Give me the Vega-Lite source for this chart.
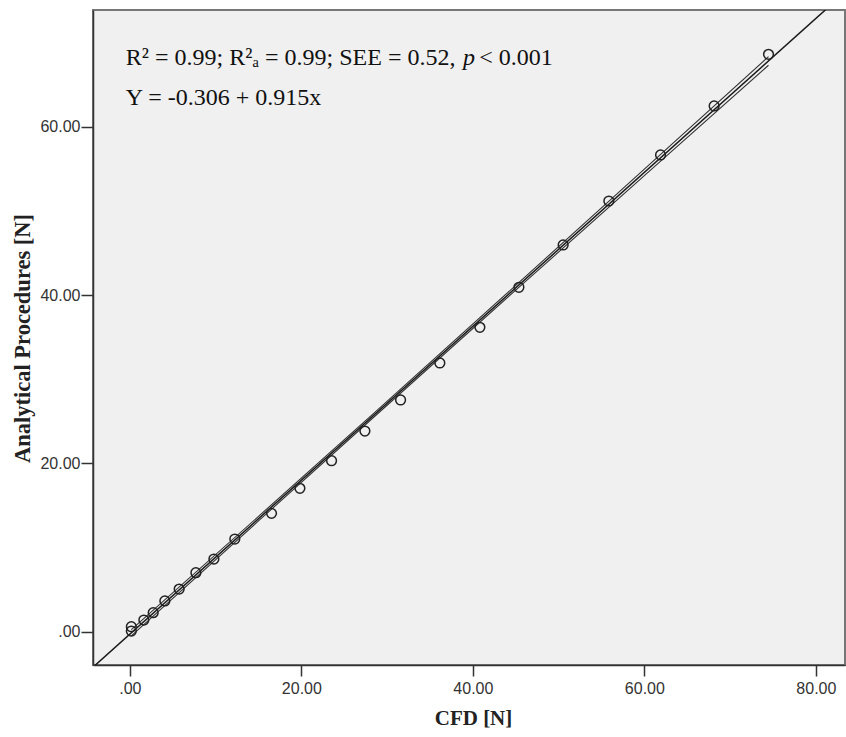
{
  "$schema": "https://vega.github.io/schema/vega-lite/v6.json",
  "width": 752,
  "height": 655,
  "autosize": {"type": "none"},
  "padding": {"left": 93, "top": 10, "right": 1, "bottom": 72},
  "background": "white",
  "config": {"view": {"fill": "#f0f0f0", "stroke": "#777777", "strokeWidth": 2}},
  "datasets": {
    "pts": [
      {"cfd": 0.17, "ap": 0.57}, {"cfd": 0.17, "ap": 0.06}, {"cfd": 1.63, "ap": 1.37},
      {"cfd": 2.72, "ap": 2.24}, {"cfd": 4.08, "ap": 3.63}, {"cfd": 5.75, "ap": 5.05},
      {"cfd": 7.70, "ap": 6.99}, {"cfd": 9.80, "ap": 8.62}, {"cfd": 12.24, "ap": 11.0},
      {"cfd": 16.52, "ap": 14.05}, {"cfd": 19.83, "ap": 17.03}, {"cfd": 23.52, "ap": 20.31},
      {"cfd": 27.41, "ap": 23.84}, {"cfd": 31.57, "ap": 27.53}, {"cfd": 36.15, "ap": 31.93},
      {"cfd": 40.82, "ap": 36.17}, {"cfd": 45.37, "ap": 40.93}, {"cfd": 50.53, "ap": 45.96},
      {"cfd": 55.86, "ap": 51.19}, {"cfd": 61.89, "ap": 56.66}, {"cfd": 68.14, "ap": 62.49},
      {"cfd": 74.48, "ap": 68.63}
    ],
    "fit": [
      {"cfd": -6, "ap": -5.796, "s": "fit"},
      {"cfd": 86, "ap": 78.384, "s": "fit"}
    ],
    "ci": [
      {"cfd": 0.17, "ap": -0.516, "s": "lower"}, {"cfd": 15, "ap": 13.151, "s": "lower"},
      {"cfd": 28.5, "ap": 25.541, "s": "lower"}, {"cfd": 45, "ap": 40.585, "s": "lower"},
      {"cfd": 60, "ap": 54.202, "s": "lower"}, {"cfd": 74.48, "ap": 67.327, "s": "lower"},
      {"cfd": 0.17, "ap": 0.216, "s": "upper"}, {"cfd": 15, "ap": 13.687, "s": "upper"},
      {"cfd": 28.5, "ap": 26.003, "s": "upper"}, {"cfd": 45, "ap": 41.153, "s": "upper"},
      {"cfd": 60, "ap": 54.986, "s": "upper"}, {"cfd": 74.48, "ap": 68.359, "s": "upper"}
    ],
    "note1": [{"cfd": -0.47, "ap": 67.36, "t": "R² = 0.99; R²ₐ = 0.99; SEE = 0.52,"}],
    "note1p": [{"cfd": 38.85, "ap": 67.36, "t": "p"}],
    "note1b": [{"cfd": 40.75, "ap": 67.36, "t": "< 0.001"}],
    "note2": [{"cfd": -0.47, "ap": 62.6, "t": "Y = -0.306 + 0.915x"}]
  },
  "encoding": {
    "x": {
      "field": "cfd", "type": "quantitative",
      "scale": {"domain": [-4.3, 83.4], "nice": false, "zero": false},
      "axis": {
        "title": "CFD [N]", "values": [0, 20, 40, 60, 80], "grid": false,
        "labelExpr": "datum.value == 0 ? '.00' : format(datum.value, '.2f')",
        "tickSize": 11, "tickColor": "#333333", "tickWidth": 1.5,
        "domainColor": "#333333", "domainWidth": 1.5,
        "labelFont": "Liberation Sans", "labelFontSize": 16, "labelColor": "#333333", "labelPadding": 4,
        "titleFont": "Liberation Serif", "titleFontWeight": "bold", "titleFontSize": 21, "titleColor": "#222222",
        "titleX": 380, "titleY": 53, "titleBaseline": "middle", "titleAlign": "center"
      }
    },
    "y": {
      "field": "ap", "type": "quantitative",
      "scale": {"domain": [-3.98, 73.9], "nice": false, "zero": false},
      "axis": {
        "title": "Analytical Procedures [N]", "values": [0, 20, 40, 60], "grid": false,
        "labelExpr": "datum.value == 0 ? '.00' : format(datum.value, '.2f')",
        "tickSize": 12, "tickColor": "#333333", "tickWidth": 1.5,
        "domainColor": "#333333", "domainWidth": 1.5,
        "labelFont": "Liberation Sans", "labelFontSize": 16, "labelColor": "#333333", "labelPadding": 1,
        "titleFont": "Liberation Serif", "titleFontWeight": "bold", "titleFontSize": 22.5, "titleColor": "#222222",
        "titleX": -71, "titleY": 328, "titleAngle": -90, "titleBaseline": "middle", "titleAlign": "center"
      }
    }
  },
  "layer": [
    {
      "data": {"name": "ci"},
      "mark": {"type": "line", "color": "#333333", "strokeWidth": 1.1},
      "encoding": {"detail": {"field": "s"}}
    },
    {
      "data": {"name": "fit"},
      "mark": {"type": "line", "color": "#1a1a1a", "strokeWidth": 1.5, "clip": true},
      "encoding": {"detail": {"field": "s"}}
    },
    {
      "data": {"name": "pts"},
      "mark": {"type": "point", "shape": "circle", "filled": false, "size": 95, "stroke": "#222222", "strokeWidth": 1.5, "opacity": 1}
    },
    {
      "data": {"name": "note1"},
      "mark": {"type": "text", "font": "Liberation Serif", "fontSize": 24, "align": "left", "baseline": "alphabetic", "color": "#111111"},
      "encoding": {"text": {"field": "t"}}
    },
    {
      "data": {"name": "note1p"},
      "mark": {"type": "text", "font": "Liberation Serif", "fontSize": 24, "fontStyle": "italic", "align": "left", "baseline": "alphabetic", "color": "#111111"},
      "encoding": {"text": {"field": "t"}}
    },
    {
      "data": {"name": "note1b"},
      "mark": {"type": "text", "font": "Liberation Serif", "fontSize": 24, "align": "left", "baseline": "alphabetic", "color": "#111111"},
      "encoding": {"text": {"field": "t"}}
    },
    {
      "data": {"name": "note2"},
      "mark": {"type": "text", "font": "Liberation Serif", "fontSize": 24, "align": "left", "baseline": "alphabetic", "color": "#111111"},
      "encoding": {"text": {"field": "t"}}
    }
  ]
}
